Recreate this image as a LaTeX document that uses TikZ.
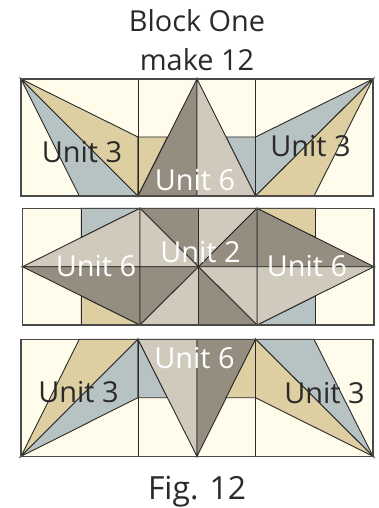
\documentclass[tikz,border=0pt]{standalone}
\usepackage{fontspec}
\setmainfont{Open Sans}
\definecolor{cream}{HTML}{FFFCEC}
\definecolor{tan}{HTML}{DDCFA2}
\definecolor{bluegrey}{HTML}{B7C2C3}
\definecolor{lightstone}{HTML}{D0CABC}
\definecolor{darkstone}{HTML}{958D80}
\definecolor{ink}{HTML}{2B2A29}
\tikzset{
  patch/.style={draw=ink,line width=0.9bp,line join=miter,fill=#1},
  frame/.style={draw=ink!85,line width=1.2bp,fill=none},
  gridline/.style={draw=ink,line width=0.9bp},
  lab/.style={inner sep=0pt,font=\fontsize{29}{29}\selectfont,text height=21bp,text depth=0bp,anchor=center},
  darklab/.style={lab,text=ink},
  whitelab/.style={lab,text=white},
  title/.style={lab,text=ink},
  figlab/.style={inner sep=0pt,font=\fontsize{32}{32}\selectfont,text=ink,text height=23bp,text depth=0bp,anchor=center}
}
\begin{document}
\begin{tikzpicture}[x=1bp,y=-1bp]
\useasboundingbox (0,0) rectangle (378,508);
\fill[white] (0,0) rectangle (378,508);
% top block
\fill[cream] (21,79) rectangle (373,196);
\draw[patch=bluegrey] (21,79) -- (79.3,196) -- (138,196) -- cycle;
\draw[patch=tan] (21,79) -- (138,196) -- (138,137) -- cycle;
\draw[patch=tan] (138,137) -- (167.5,137) -- (138,196) -- cycle;
\draw[patch=bluegrey] (226,137) -- (255.5,137) -- (255.5,196) -- cycle;
\draw[patch=darkstone] (197,79) -- (197,196) -- (138,196) -- cycle;
\draw[patch=lightstone] (197,79) -- (197,196) -- (255.5,196) -- cycle;
\draw[patch=bluegrey] (373,79) -- (255.5,137) -- (255.5,196) -- cycle;
\draw[patch=tan] (373,79) -- (255.5,196) -- (314,196) -- cycle;
\draw[gridline] (138,79) -- (138,196) (255.5,79) -- (255.5,196);
\draw[frame] (21,79) rectangle (373,196);
% middle block
\fill[cream] (22.5,208.3) rectangle (374,325);
\draw[patch=bluegrey] (81.3,208.3) -- (140,208.3) -- (81.3,237.5) -- cycle;
\draw[patch=tan] (81.3,296) -- (81.3,325) -- (140,325) -- cycle;
\draw[patch=tan] (257,208.3) -- (315.5,208.3) -- (315.5,237.5) -- cycle;
\draw[patch=bluegrey] (315.5,296) -- (315.5,325) -- (257,325) -- cycle;
\draw[patch=lightstone] (22.5,266.7) -- (140,208.3) -- (140,266.7) -- cycle;
\draw[patch=darkstone] (22.5,266.7) -- (140,325) -- (140,266.7) -- cycle;
\draw[patch=darkstone] (374,266.7) -- (257,208.3) -- (257,266.7) -- cycle;
\draw[patch=lightstone] (374,266.7) -- (257,325) -- (257,266.7) -- cycle;
\draw[patch=darkstone] (140,208.3) -- (198.5,208.3) -- (198.5,266.7) -- cycle;
\draw[patch=lightstone] (140,208.3) -- (198.5,266.7) -- (140,266.7) -- cycle;
\draw[patch=darkstone] (140,266.7) -- (198.5,266.7) -- (140,325) -- cycle;
\draw[patch=lightstone] (198.5,266.7) -- (198.5,325) -- (140,325) -- cycle;
\draw[patch=lightstone] (198.5,208.3) -- (257,208.3) -- (198.5,266.7) -- cycle;
\draw[patch=darkstone] (257,208.3) -- (257,266.7) -- (198.5,266.7) -- cycle;
\draw[patch=lightstone] (198.5,266.7) -- (257,266.7) -- (257,325) -- cycle;
\draw[patch=darkstone] (198.5,266.7) -- (198.5,325) -- (257,325) -- cycle;
\draw[frame] (22.5,208.3) rectangle (374,325);
% bottom block
\fill[cream] (21,339.3) rectangle (373,456.3);
\draw[patch=tan] (21,456.3) -- (79.3,339.3) -- (138,339.3) -- cycle;
\draw[patch=bluegrey] (21,456.3) -- (138,339.3) -- (138,397.7) -- cycle;
\draw[patch=bluegrey] (138,339.3) -- (138,397.7) -- (167.5,397.7) -- cycle;
\draw[patch=lightstone] (138,339.3) -- (197,339.3) -- (197,456.3) -- cycle;
\draw[patch=darkstone] (197,339.3) -- (255.5,339.3) -- (197,456.3) -- cycle;
\draw[patch=tan] (255.5,339.3) -- (255.5,397.7) -- (226,397.7) -- cycle;
\draw[patch=bluegrey] (255.5,339.3) -- (314,339.3) -- (373,456.3) -- cycle;
\draw[patch=tan] (255.5,339.3) -- (373,456.3) -- (255.5,397.7) -- cycle;
\draw[gridline] (138,339.3) -- (138,456.3) (255.5,339.3) -- (255.5,456.3);
\draw[frame] (21,339.3) rectangle (373,456.3);
% labels
\node[title] (t1) at (197,21) {Block One};
\node[title] (t2) at (197,60) {make 12};
\node[darklab] (a) at (82,152) {Unit 3};
\node[darklab] (b) at (310.5,146) {Unit 3};
\node[whitelab] (c) at (195,180) {Unit 6};
\node[whitelab] (d) at (96,266) {Unit 6};
\node[whitelab] (e) at (200.5,252) {Unit 2};
\node[whitelab] (f) at (307,266) {Unit 6};
\node[darklab] (g) at (78.5,392) {Unit 3};
\node[whitelab] (h) at (194.5,358) {Unit 6};
\node[darklab] (i) at (324.5,393) {Unit 3};
\node[figlab] (j) at (197,488) {Fig. 12};
\end{tikzpicture}
\end{document}
